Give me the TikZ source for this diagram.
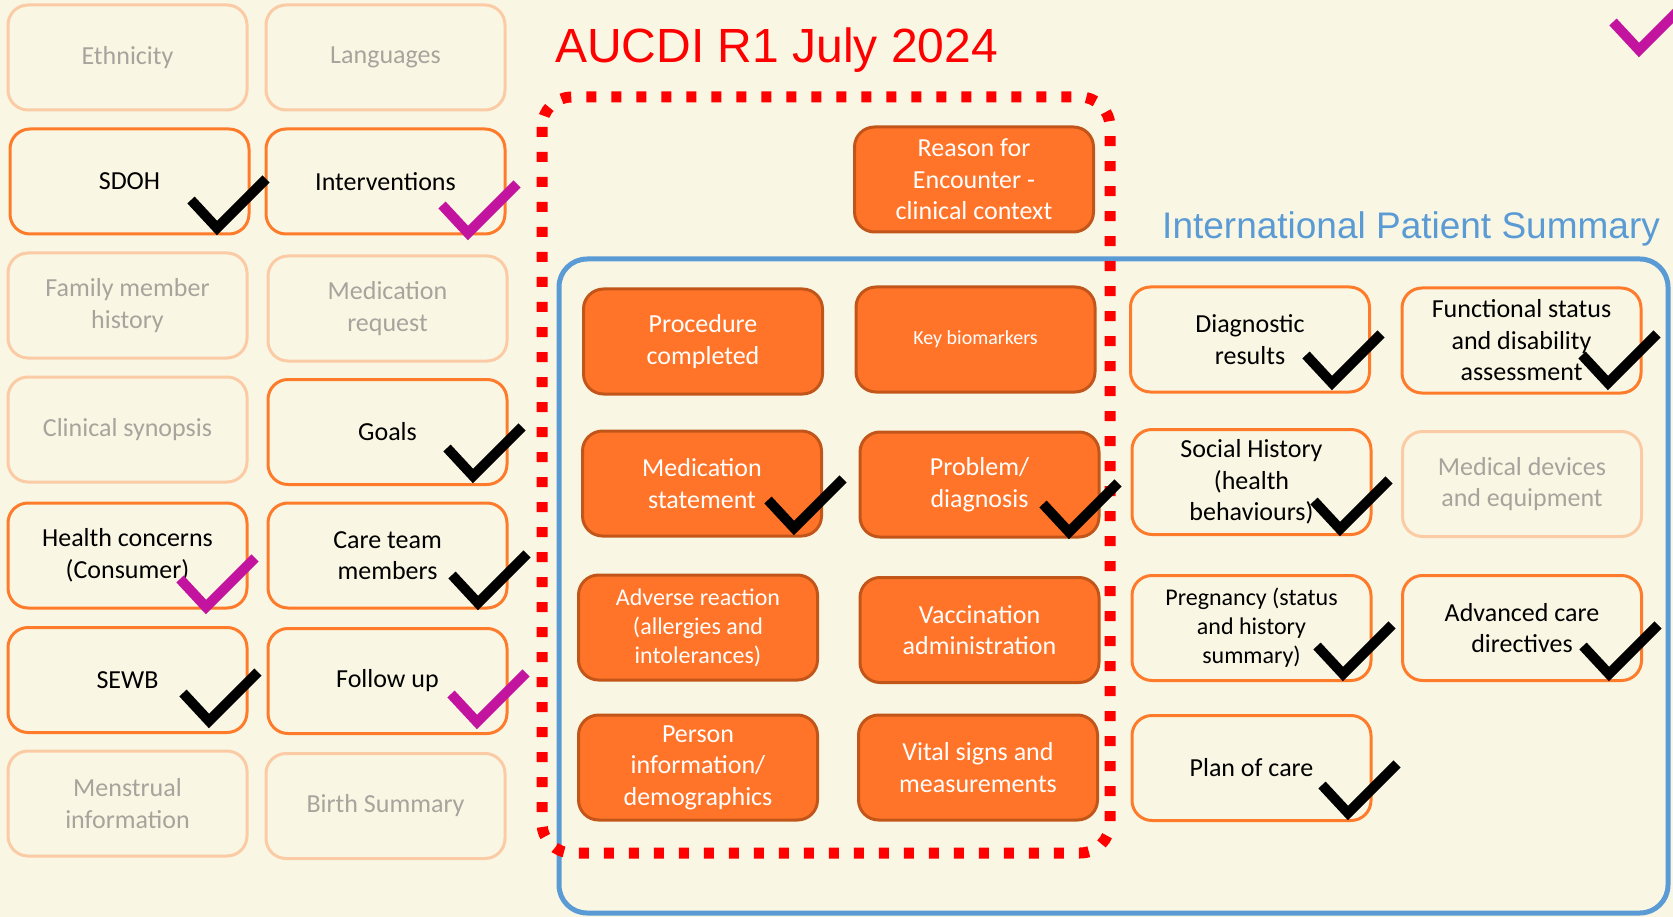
\documentclass[tikz,border=0pt]{standalone}
\usepackage{fontspec}
\setmainfont{Carlito}
\newfontfamily\arialfont{Liberation Sans}
\definecolor{bgcol}{HTML}{F9F7E3}
\definecolor{actborder}{HTML}{FF7B2C}
\definecolor{lightborder}{HTML}{FBCBA6}
\definecolor{fadetext}{HTML}{A6A49C}
\definecolor{orangefill}{HTML}{FF7428}
\definecolor{darkorange}{HTML}{C2561A}
\definecolor{ipsblue}{HTML}{5B9BD5}
\definecolor{tickmagenta}{HTML}{C2149E}
\definecolor{titlered}{HTML}{FF0000}
\begin{document}
\begin{tikzpicture}[x=1pt,y=-1pt,
  box/.style={rounded corners=20pt, minimum width=239pt, minimum height=105pt,
    inner sep=0pt, align=center, line width=3pt,
    font=\fontsize{26}{31.5}\selectfont},
  activebox/.style={box, draw=actborder, text=black},
  fadedbox/.style={box, draw=lightborder, text=fadetext},
  filledbox/.style={box, draw=darkorange, fill=orangefill, text=white},
  smalltext/.style={font=\fontsize{24}{29}\selectfont},
  checkmark/.pic={\draw[line width=10pt, line join=miter, #1] (-26,-28) -- (0,0) -- (49,-49);}
]
\useasboundingbox (0,0) rectangle (1673,917);
\fill[bgcol] (0,0) rectangle (1673,917);

% left panel
\node[fadedbox] (eth) at (127.5,57.5) {Ethnicity};
\node[fadedbox] (lang) at (385.5,57.5) {Languages};
\node[activebox] (sdoh) at (129.5,181.5) {SDOH};
\node[activebox] (interv) at (385.5,181.5) {Interventions};
\node[fadedbox] (fam) at (127.5,305.5) {Family member\\history};
\node[fadedbox] (medreq) at (387.5,308.5) {Medication\\request};
\node[fadedbox] (clin) at (127.5,429.5) {Clinical synopsis};
\node[activebox] (goals) at (387.5,432) {Goals};
\node[activebox] (health) at (127.5,555.5) {Health concerns\\(Consumer)};
\node[activebox] (care) at (387.5,555.5) {Care team\\members};
\node[activebox] (sewb) at (127.5,680) {SEWB};
\node[activebox] (follow) at (387.5,681) {Follow up};
\node[fadedbox] (menst) at (127.5,803.5) {Menstrual\\information};
\node[fadedbox] (birth) at (385.5,806) {Birth Summary};

% titles
\node[anchor=base west, inner sep=0pt, text=titlered, font=\arialfont\fontsize{48}{56}\selectfont] (aucdi) at (555,63) {AUCDI R1 July 2024};
\node[anchor=base west, inner sep=0pt, text=ipsblue, font=\arialfont\fontsize{37}{44}\selectfont] (ips) at (1162,239) {International Patient Summary};

% IPS frame
\draw[ipsblue, line width=5pt, rounded corners=28pt] (559,259) rectangle (1668,913);

% AUCDI orange boxes
\node[filledbox] (reason) at (974,179.5) {Reason for\\Encounter -\\clinical context};
\node[filledbox] (proc) at (703,341.5) {Procedure\\completed};
\node[filledbox, font=\fontsize{20}{24}\selectfont] (keybio) at (975.5,339.5) {Key biomarkers};
\node[filledbox] (medstat) at (702,483.5) {Medication\\statement};
\node[filledbox] (prob) at (979.5,484.5) {Problem/\\diagnosis};
\node[filledbox, smalltext] (adverse) at (698,627.5) {Adverse reaction\\(allergies and\\intolerances)};
\node[filledbox] (vacc) at (979.5,630) {Vaccination\\administration};
\node[filledbox] (person) at (698,767.5) {Person\\information/\\demographics};
\node[filledbox] (vital) at (978,767.5) {Vital signs and\\measurements};

% AUCDI dotted frame
\draw[titlered, line width=11pt, dash pattern=on 10pt off 15pt, rounded corners=30pt] (542,97) rectangle (1110,853);

% right IPS boxes
\node[activebox] (diag) at (1250,339.5) {Diagnostic\\results};
\node[activebox] (func) at (1521.5,340.5) {Functional status\\and disability\\assessment};
\node[activebox] (social) at (1251.5,482) {Social History\\(health\\behaviours)};
\node[fadedbox] (meddev) at (1522,484) {Medical devices\\and equipment};
\node[activebox, smalltext] (preg) at (1251.5,628) {Pregnancy (status\\and history\\summary)};
\node[activebox] (adv) at (1522,628) {Advanced care\\directives};
\node[activebox] (plan) at (1251.5,768) {Plan of care};

% check marks
\pic at (217,228) {checkmark=black};
\pic at (473,476) {checkmark=black};
\pic at (478,603) {checkmark=black};
\pic at (209,721) {checkmark=black};
\pic at (794,528) {checkmark=black};
\pic at (1069,532) {checkmark=black};
\pic at (1332,383) {checkmark=black};
\pic at (1608,383) {checkmark=black};
\pic at (1340,529) {checkmark=black};
\pic at (1343,674) {checkmark=black};
\pic at (1609,674) {checkmark=black};
\pic at (1348,813) {checkmark=black};
\pic at (468,233) {checkmark=tickmagenta};
\pic at (206,607) {checkmark=tickmagenta};
\pic at (477,722) {checkmark=tickmagenta};
\pic at (1639,50) {checkmark=tickmagenta};
\end{tikzpicture}
\end{document}
